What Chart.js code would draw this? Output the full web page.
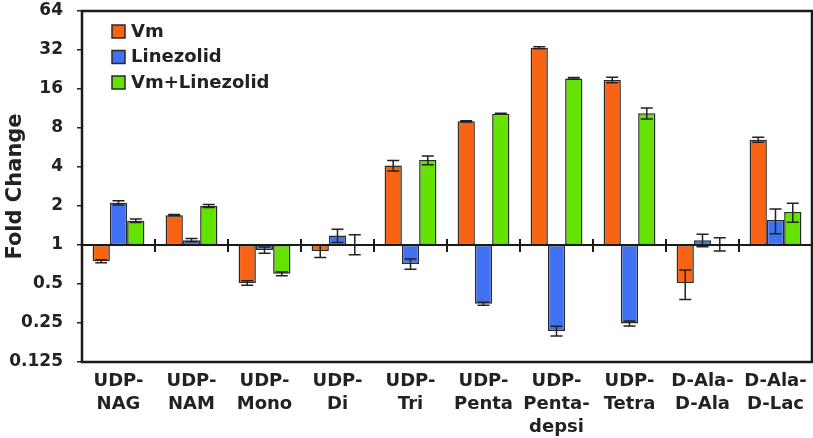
<!DOCTYPE html>
<html>
<head>
<meta charset="utf-8">
<script src="https://cdn.jsdelivr.net/npm/chart.js@4.4.1/dist/chart.umd.min.js"></script>
<style>
  html, body { margin: 0; padding: 0; background: #fff; overflow: hidden; }
  #wrap { width: 813px; height: 438px; }
</style>
</head>
<body>
<div id="wrap"><canvas id="grafico"></canvas></div>
<script>
// dados
const categorias = [
  ['UDP-', 'NAG'], ['UDP-', 'NAM'], ['UDP-', 'Mono'], ['UDP-', 'Di'], ['UDP-', 'Tri'],
  ['UDP-', 'Penta'], ['UDP-', 'Penta-', 'depsi'], ['UDP-', 'Tetra'], ['D-Ala-', 'D-Ala'], ['D-Ala-', 'D-Lac']
];
const vmValores = [0.75, 1.70, 0.51, 0.90, 4.1, 9.0, 33.3, 18.8, 0.51, 6.5];
const vmErros = [0.02, 0.02, 0.02, 0.1, 0.38, 0.1, 0.6, 0.9, 0.13, 0.3];
const linValores = [2.12, 1.09, 0.915, 1.185, 0.715, 0.352, 0.217, 0.248, 1.09, 1.56];
const linErros = [0.08, 0.03, 0.05, 0.14, 0.065, 0.01, 0.019, 0.011, 0.12, 0.34];
const comboValores = [1.54, 2.0, 0.6, 1.02, 4.52, 10.3, 19.3, 10.4, 1.02, 1.80];
const comboErros = [0.05, 0.05, 0.02, 0.18, 0.35, 0.1, 0.3, 1.0, 0.12, 0.3];
const yTicks = [0.125, 0.25, 0.5, 1, 2, 4, 8, 16, 32, 64];

const corTexto = '#222';
const fonte = 'DejaVu Sans';

function flutuante(valores) {
  return valores.map(v => [1, v]);
}

function criarSerie(label, valores, erros, cor) {
  return {
    label: label,
    data: flutuante(valores),
    erros: erros,
    valores: valores,
    backgroundColor: cor,
    borderColor: '#2a2a2a',
    borderWidth: 1.5,
    borderSkipped: false,
    categoryPercentage: 0.71,
    barPercentage: 1.0
  };
}

const pluginExtras = {
  id: 'extras',
  afterDatasetsDraw(chart) {
    const ctx = chart.ctx;
    const y = chart.scales.y;
    const area = chart.chartArea;
    ctx.save();
    // barras de erro
    ctx.strokeStyle = '#222';
    ctx.lineWidth = 1.5;
    chart.data.datasets.forEach((ds, i) => {
      const meta = chart.getDatasetMeta(i);
      meta.data.forEach((bar, j) => {
        const v = ds.valores[j];
        const e = ds.erros[j];
        const yTop = y.getPixelForValue(v + e);
        const yBot = y.getPixelForValue(Math.max(v - e, 0.01));
        const x = bar.x;
        ctx.beginPath();
        ctx.moveTo(x, yTop); ctx.lineTo(x, yBot);
        ctx.moveTo(x - 6, yTop); ctx.lineTo(x + 6, yTop);
        ctx.moveTo(x - 6, yBot); ctx.lineTo(x + 6, yBot);
        ctx.stroke();
      });
    });
    // linha base em 1 e divisores
    const y1 = y.getPixelForValue(1);
    ctx.strokeStyle = '#1a1a1a';
    ctx.lineWidth = 2;
    ctx.beginPath();
    ctx.moveTo(area.left, y1); ctx.lineTo(area.right, y1);
    const passo = (area.right - area.left) / categorias.length;
    for (let k = 1; k < categorias.length; k++) {
      const xk = area.left + passo * k;
      ctx.moveTo(xk, y1 - 6); ctx.lineTo(xk, y1 + 7);
    }
    ctx.stroke();
    // moldura
    ctx.lineWidth = 2.5;
    ctx.strokeRect(area.left, area.top, area.right - area.left, area.bottom - area.top);
    // legenda
    ctx.font = 'bold 18px "' + fonte + '"';
    ctx.textBaseline = 'middle';
    ctx.textAlign = 'left';
    chart.data.datasets.forEach((ds, i) => {
      const by = area.top + 14 + i * 25.5;
      ctx.fillStyle = ds.backgroundColor;
      ctx.fillRect(112, by, 13, 13);
      ctx.lineWidth = 1.5;
      ctx.strokeStyle = '#2a2a2a';
      ctx.strokeRect(112, by, 13, 13);
      ctx.fillStyle = corTexto;
      ctx.fillText(ds.label, 131, by + 7);
    });
    ctx.restore();
  }
};

new Chart(document.getElementById('grafico'), {
  type: 'bar',
  data: {
    labels: categorias,
    datasets: [
      criarSerie('Vm', vmValores, vmErros, '#F96314'),
      criarSerie('Linezolid', linValores, linErros, '#4172F3'),
      criarSerie('Vm+Linezolid', comboValores, comboErros, '#64E202')
    ]
  },
  options: {
    responsive: true,
    maintainAspectRatio: false,
    animation: false,
    layout: { padding: { top: 11, right: 1, left: 0, bottom: 0 } },
    plugins: {
      legend: { display: false },
      tooltip: { enabled: false }
    },
    scales: {
      x: {
        grid: { display: false },
        border: { display: false },
        ticks: {
          color: corTexto,
          font: { family: fonte, weight: 'bold', size: 18, lineHeight: 1.28 },
          padding: 0,
          maxRotation: 0,
          autoSkip: false
        },
        afterFit(scale) { scale.height = 76; }
      },
      y: {
        type: 'logarithmic',
        min: 0.125,
        max: 64,
        afterBuildTicks(scale) {
          scale.ticks = yTicks.map(v => ({ value: v }));
        },
        grid: { drawOnChartArea: false, tickLength: 5, color: '#222', lineWidth: 1.5 },
        border: { display: false },
        ticks: {
          color: corTexto,
          font: { family: fonte, weight: 'bold', size: 17 },
          padding: 14,
          callback: v => String(v)
        },
        title: {
          display: true,
          text: 'Fold Change',
          color: corTexto,
          font: { family: fonte, weight: 'bold', size: 21 },
          padding: { top: 3, bottom: 0 }
        },
        afterFit(scale) {
          scale.width = 82;
          scale.paddingTop = 0;
          scale.paddingBottom = 0;
        }
      }
    }
  },
  plugins: [pluginExtras]
});
</script>
</body>
</html>
